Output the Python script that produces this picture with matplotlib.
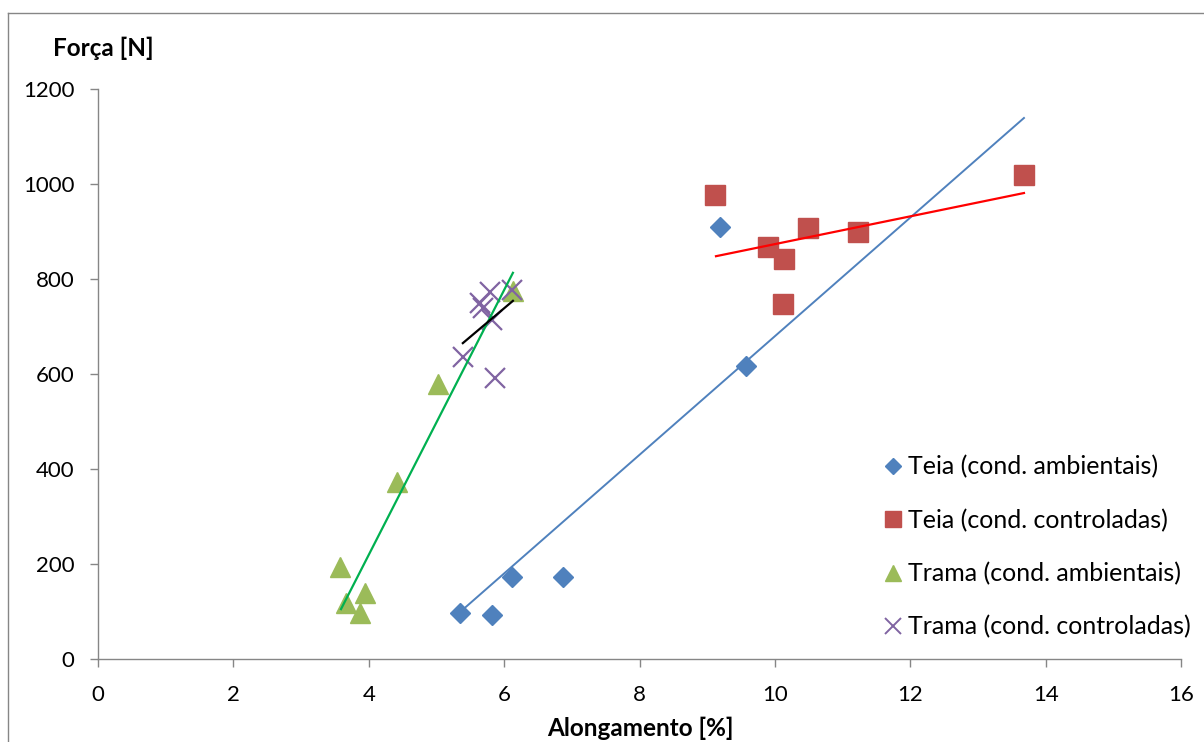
import matplotlib
matplotlib.use("Agg")
import matplotlib.pyplot as plt
from matplotlib.lines import Line2D

plt.rcParams['font.family'] = ['Lato', 'DejaVu Sans']

# Data
teia_amb_x = [5.35, 5.82, 6.12, 6.87, 9.57, 9.19]
teia_amb_y = [97, 93, 173, 173, 617, 909]
teia_ctrl_x = [9.12, 9.90, 10.13, 10.49, 11.23, 10.12, 13.68]
teia_ctrl_y = [977, 867, 842, 907, 899, 747, 1019]
trama_amb_x = [3.58, 3.95, 3.66, 3.87, 4.42, 5.02, 6.13]
trama_amb_y = [194, 139, 118, 97, 373, 579, 775]
trama_ctrl_x = [5.79, 5.64, 5.69, 5.82, 6.12, 5.39, 5.86]
trama_ctrl_y = [773, 749, 739, 714, 777, 636, 592]

# Trend lines (endpoints)
trend_teia_amb_x = [5.35, 13.68]
trend_teia_amb_y = [99, 1139]
trend_teia_ctrl_x = [9.13, 13.68]
trend_teia_ctrl_y = [848, 981]
trend_trama_amb_x = [3.59, 6.13]
trend_trama_amb_y = [105, 813]
trend_trama_ctrl_x = [5.39, 6.13]
trend_trama_ctrl_y = [665, 754]

labels = ["Teia (cond. ambientais)", "Teia (cond. controladas)",
          "Trama (cond. ambientais)", "Trama (cond. controladas)"]
x_ticks = [0, 2, 4, 6, 8, 10, 12, 14, 16]
y_ticks = [0, 200, 400, 600, 800, 1000, 1200]

W, H = 1204, 742
fig = plt.figure(figsize=(W / 100, H / 100), dpi=100)
ax = fig.add_axes([98 / W, 1 - 659 / H, (1181 - 98) / W, (659 - 89) / H])

blue, red, green, purple = "#4F81BD", "#C0504D", "#9BBB59", "#8064A2"

ax.plot(teia_amb_x, teia_amb_y, linestyle='none', marker='D', ms=10, color=blue, zorder=3)
ax.plot(teia_ctrl_x, teia_ctrl_y, linestyle='none', marker='s', ms=14, color=red, zorder=3)
ax.plot(trama_amb_x, trama_amb_y, linestyle='none', marker='^', ms=15, color=green, zorder=3)
ax.plot(trama_ctrl_x, trama_ctrl_y, linestyle='none', marker='x', ms=14, mew=1.6, color=purple, zorder=3)

ax.plot(trend_teia_amb_x, trend_teia_amb_y, color=blue, lw=1.4, zorder=4)
ax.plot(trend_teia_ctrl_x, trend_teia_ctrl_y, color="#FF0000", lw=1.6, zorder=4)
ax.plot(trend_trama_amb_x, trend_trama_amb_y, color="#00B050", lw=1.6, zorder=4)
ax.plot(trend_trama_ctrl_x, trend_trama_ctrl_y, color="black", lw=1.6, zorder=4)

ax.set_xlim(0, 16)
ax.set_ylim(0, 1200)
ax.set_xticks(x_ticks)
ax.set_yticks(y_ticks)
ax.tick_params(labelsize=16, length=6, color="#868686", width=1, direction='out')
ax.tick_params(axis='x', pad=12.5)
ax.tick_params(axis='y', pad=11)
for s in ['top', 'right']:
    ax.spines[s].set_visible(False)
for s in ['left', 'bottom']:
    ax.spines[s].set_color("#868686")
    ax.spines[s].set_linewidth(1)

fig.text(103 / W, 1 - 48 / H, "Força [N]", fontsize=17.5, fontweight='bold', ha='center', va='center')
fig.text(640 / W, 1 - 728 / H, "Alongamento [%]", fontsize=17.5, fontweight='bold', ha='center', va='center')

handles = [
    Line2D([], [], linestyle='none', marker='D', ms=8, color=blue),
    Line2D([], [], linestyle='none', marker='s', ms=11, color=red),
    Line2D([], [], linestyle='none', marker='^', ms=12, color=green),
    Line2D([], [], linestyle='none', marker='x', ms=11, mew=1.4, color=purple),
]
leg = ax.legend(handles, labels, loc='upper left', bbox_to_anchor=(872 / W, 1 - 443 / H),
                bbox_transform=fig.transFigure, frameon=False, fontsize=18,
                handlelength=0.7, handletextpad=0.25, labelspacing=1.2, borderpad=0)

# Chart area border
fig.add_artist(Line2D([8 / W, 8 / W], [0, 1 - 13 / H], color="#868686", lw=1, transform=fig.transFigure))
fig.add_artist(Line2D([8 / W, 1], [1 - 13 / H, 1 - 13 / H], color="#868686", lw=1, transform=fig.transFigure))

fig.savefig("out.png", dpi=100)
